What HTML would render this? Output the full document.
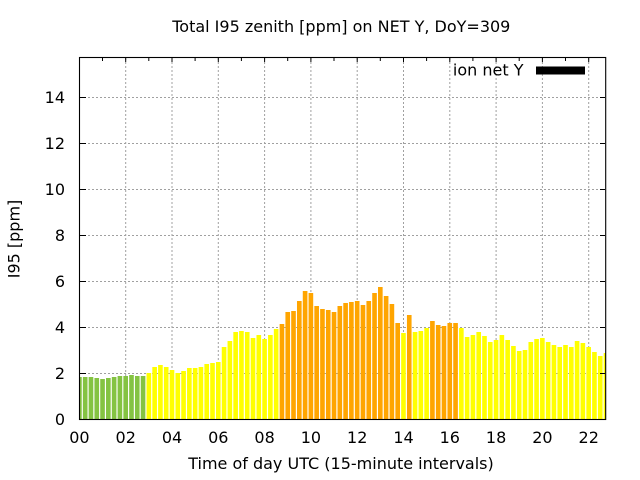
<!DOCTYPE html>
<html>
<head>
<meta charset="utf-8">
<style>
html,body{margin:0;padding:0;background:#fff;}
svg{display:block;}
text{font-family:"DejaVu Sans","Liberation Sans",sans-serif;font-size:16px;fill:#000;}
</style>
</head>
<body>
<svg width="640" height="480" viewBox="0 0 640 480" xmlns="http://www.w3.org/2000/svg">
<rect x="0" y="0" width="640" height="480" fill="#fff"/>
<defs>
<clipPath id="pc"><rect x="79.5" y="57.5" width="526.2" height="362"/></clipPath>
</defs>
<g stroke="#a0a0a0" stroke-width="1" stroke-dasharray="2,2" fill="none">
<line x1="80" y1="373.5" x2="605" y2="373.5"/>
<line x1="80" y1="327.5" x2="605" y2="327.5"/>
<line x1="80" y1="281.5" x2="605" y2="281.5"/>
<line x1="80" y1="235.5" x2="605" y2="235.5"/>
<line x1="80" y1="189.5" x2="605" y2="189.5"/>
<line x1="80" y1="143.5" x2="605" y2="143.5"/>
<line x1="80" y1="97.5" x2="605" y2="97.5"/>
<line x1="125.7" y1="58" x2="125.7" y2="419"/>
<line x1="172" y1="58" x2="172" y2="419"/>
<line x1="218.3" y1="58" x2="218.3" y2="419"/>
<line x1="264.6" y1="58" x2="264.6" y2="419"/>
<line x1="310.9" y1="58" x2="310.9" y2="419"/>
<line x1="357.2" y1="58" x2="357.2" y2="419"/>
<line x1="403.5" y1="58" x2="403.5" y2="419"/>
<line x1="449.8" y1="58" x2="449.8" y2="419"/>
<line x1="496.1" y1="58" x2="496.1" y2="419"/>
<line x1="542.4" y1="58" x2="542.4" y2="419"/>
<line x1="588.7" y1="58" x2="588.7" y2="419"/>
</g>
<g clip-path="url(#pc)">
<g fill="#84c342">
<rect x="77.09" y="377" width="4.63" height="42"/>
<rect x="82.87" y="377" width="4.63" height="42"/>
<rect x="88.66" y="377" width="4.63" height="42"/>
<rect x="94.45" y="378" width="4.63" height="41"/>
<rect x="100.23" y="379" width="4.63" height="40"/>
<rect x="106.02" y="378" width="4.63" height="41"/>
<rect x="111.81" y="377" width="4.63" height="42"/>
<rect x="117.59" y="376" width="4.63" height="43"/>
<rect x="123.38" y="376" width="4.63" height="43"/>
<rect x="129.17" y="375" width="4.63" height="44"/>
<rect x="134.96" y="376" width="4.63" height="43"/>
<rect x="140.74" y="376" width="4.63" height="43"/>
</g>
<g fill="#ffff00">
<rect x="146.53" y="373" width="4.63" height="46"/>
<rect x="152.32" y="367" width="4.63" height="52"/>
<rect x="158.10" y="365" width="4.63" height="54"/>
<rect x="163.89" y="367" width="4.63" height="52"/>
<rect x="169.68" y="370" width="4.63" height="49"/>
<rect x="175.46" y="373" width="4.63" height="46"/>
<rect x="181.25" y="371" width="4.63" height="48"/>
<rect x="187.04" y="368" width="4.63" height="51"/>
<rect x="192.83" y="368" width="4.63" height="51"/>
<rect x="198.61" y="367" width="4.63" height="52"/>
<rect x="204.40" y="364" width="4.63" height="55"/>
<rect x="210.19" y="363" width="4.63" height="56"/>
<rect x="215.97" y="362" width="4.63" height="57"/>
<rect x="221.76" y="347" width="4.63" height="72"/>
<rect x="227.55" y="341" width="4.63" height="78"/>
<rect x="233.33" y="332" width="4.63" height="87"/>
<rect x="239.12" y="331" width="4.63" height="88"/>
<rect x="244.91" y="332" width="4.63" height="87"/>
<rect x="250.70" y="338" width="4.63" height="81"/>
<rect x="256.48" y="335" width="4.63" height="84"/>
<rect x="262.27" y="339" width="4.63" height="80"/>
<rect x="268.06" y="335" width="4.63" height="84"/>
<rect x="273.84" y="329" width="4.63" height="90"/>
<rect x="401.16" y="333" width="4.63" height="86"/>
<rect x="412.73" y="332" width="4.63" height="87"/>
<rect x="418.52" y="331" width="4.63" height="88"/>
<rect x="424.31" y="328" width="4.63" height="91"/>
<rect x="459.03" y="328" width="4.63" height="91"/>
<rect x="464.81" y="337" width="4.63" height="82"/>
<rect x="470.60" y="335" width="4.63" height="84"/>
<rect x="476.39" y="332" width="4.63" height="87"/>
<rect x="482.18" y="336" width="4.63" height="83"/>
<rect x="487.96" y="342" width="4.63" height="77"/>
<rect x="493.75" y="340" width="4.63" height="79"/>
<rect x="499.54" y="335" width="4.63" height="84"/>
<rect x="505.32" y="340" width="4.63" height="79"/>
<rect x="511.11" y="346" width="4.63" height="73"/>
<rect x="516.90" y="351" width="4.63" height="68"/>
<rect x="522.68" y="350" width="4.63" height="69"/>
<rect x="528.47" y="342" width="4.63" height="77"/>
<rect x="534.26" y="339" width="4.63" height="80"/>
<rect x="540.05" y="338" width="4.63" height="81"/>
<rect x="545.83" y="342" width="4.63" height="77"/>
<rect x="551.62" y="345" width="4.63" height="74"/>
<rect x="557.41" y="347" width="4.63" height="72"/>
<rect x="563.19" y="345" width="4.63" height="74"/>
<rect x="568.98" y="347" width="4.63" height="72"/>
<rect x="574.77" y="341" width="4.63" height="78"/>
<rect x="580.55" y="343" width="4.63" height="76"/>
<rect x="586.34" y="347" width="4.63" height="72"/>
<rect x="592.13" y="352" width="4.63" height="67"/>
<rect x="597.92" y="356" width="4.63" height="63"/>
<rect x="603.70" y="353" width="4.63" height="66"/>
</g>
<g fill="#ffa500">
<rect x="279.63" y="324" width="4.63" height="95"/>
<rect x="285.42" y="312" width="4.63" height="107"/>
<rect x="291.20" y="311" width="4.63" height="108"/>
<rect x="296.99" y="301" width="4.63" height="118"/>
<rect x="302.78" y="291" width="4.63" height="128"/>
<rect x="308.57" y="293" width="4.63" height="126"/>
<rect x="314.35" y="306" width="4.63" height="113"/>
<rect x="320.14" y="309" width="4.63" height="110"/>
<rect x="325.93" y="310" width="4.63" height="109"/>
<rect x="331.71" y="312" width="4.63" height="107"/>
<rect x="337.50" y="306" width="4.63" height="113"/>
<rect x="343.29" y="303" width="4.63" height="116"/>
<rect x="349.07" y="302" width="4.63" height="117"/>
<rect x="354.86" y="301" width="4.63" height="118"/>
<rect x="360.65" y="305" width="4.63" height="114"/>
<rect x="366.44" y="301" width="4.63" height="118"/>
<rect x="372.22" y="293" width="4.63" height="126"/>
<rect x="378.01" y="287" width="4.63" height="132"/>
<rect x="383.80" y="296" width="4.63" height="123"/>
<rect x="389.58" y="304" width="4.63" height="115"/>
<rect x="395.37" y="323" width="4.63" height="96"/>
<rect x="406.94" y="315" width="4.63" height="104"/>
<rect x="430.09" y="321" width="4.63" height="98"/>
<rect x="435.88" y="325" width="4.63" height="94"/>
<rect x="441.67" y="326" width="4.63" height="93"/>
<rect x="447.45" y="323" width="4.63" height="96"/>
<rect x="453.24" y="323" width="4.63" height="96"/>
</g>
</g>
<g stroke="#000" stroke-width="1">
<line x1="80" y1="373.5" x2="86" y2="373.5"/>
<line x1="80" y1="327.5" x2="86" y2="327.5"/>
<line x1="80" y1="281.5" x2="86" y2="281.5"/>
<line x1="80" y1="235.5" x2="86" y2="235.5"/>
<line x1="80" y1="189.5" x2="86" y2="189.5"/>
<line x1="80" y1="143.5" x2="86" y2="143.5"/>
<line x1="80" y1="97.5" x2="86" y2="97.5"/>
<line x1="600" y1="373.5" x2="605" y2="373.5"/>
<line x1="600" y1="327.5" x2="605" y2="327.5"/>
<line x1="600" y1="281.5" x2="605" y2="281.5"/>
<line x1="600" y1="235.5" x2="605" y2="235.5"/>
<line x1="600" y1="189.5" x2="605" y2="189.5"/>
<line x1="600" y1="143.5" x2="605" y2="143.5"/>
<line x1="600" y1="97.5" x2="605" y2="97.5"/>
<line x1="102.5" y1="58" x2="102.5" y2="61"/>
<line x1="125.7" y1="58" x2="125.7" y2="62"/>
<line x1="148.8" y1="58" x2="148.8" y2="61"/>
<line x1="172" y1="58" x2="172" y2="62"/>
<line x1="195.1" y1="58" x2="195.1" y2="61"/>
<line x1="218.3" y1="58" x2="218.3" y2="62"/>
<line x1="241.4" y1="58" x2="241.4" y2="61"/>
<line x1="264.6" y1="58" x2="264.6" y2="62"/>
<line x1="287.7" y1="58" x2="287.7" y2="61"/>
<line x1="310.9" y1="58" x2="310.9" y2="62"/>
<line x1="334.0" y1="58" x2="334.0" y2="61"/>
<line x1="357.2" y1="58" x2="357.2" y2="62"/>
<line x1="380.3" y1="58" x2="380.3" y2="61"/>
<line x1="403.5" y1="58" x2="403.5" y2="62"/>
<line x1="426.6" y1="58" x2="426.6" y2="61"/>
<line x1="449.8" y1="58" x2="449.8" y2="62"/>
<line x1="472.9" y1="58" x2="472.9" y2="61"/>
<line x1="496.1" y1="58" x2="496.1" y2="62"/>
<line x1="519.2" y1="58" x2="519.2" y2="61"/>
<line x1="542.4" y1="58" x2="542.4" y2="62"/>
<line x1="565.5" y1="58" x2="565.5" y2="61"/>
<line x1="588.7" y1="58" x2="588.7" y2="62"/>
</g>
<rect x="79.5" y="57.5" width="526.2" height="362" fill="none" stroke="#000" stroke-width="1.1"/>
<g text-anchor="end">
<text x="65" y="425">0</text>
<text x="65" y="379">2</text>
<text x="65" y="333">4</text>
<text x="65" y="287">6</text>
<text x="65" y="241">8</text>
<text x="65" y="195">10</text>
<text x="65" y="149">12</text>
<text x="65" y="103">14</text>
</g>
<g text-anchor="middle">
<text x="79.4" y="443">00</text>
<text x="125.7" y="443">02</text>
<text x="172" y="443">04</text>
<text x="218.3" y="443">06</text>
<text x="264.6" y="443">08</text>
<text x="310.9" y="443">10</text>
<text x="357.2" y="443">12</text>
<text x="403.5" y="443">14</text>
<text x="449.8" y="443">16</text>
<text x="496.1" y="443">18</text>
<text x="542.4" y="443">20</text>
<text x="588.7" y="443">22</text>
</g>
<text x="341.3" y="32" text-anchor="middle">Total I95 zenith [ppm] on NET Y, DoY=309</text>
<text x="341" y="469" text-anchor="middle">Time of day UTC (15-minute intervals)</text>
<text transform="translate(19.5,239) rotate(-90)" text-anchor="middle">I95 [ppm]</text>
<text x="523.5" y="75.5" text-anchor="end">ion net Y</text>
<rect x="536" y="66.5" width="49" height="8" fill="#000"/>
</svg>
</body>
</html>
